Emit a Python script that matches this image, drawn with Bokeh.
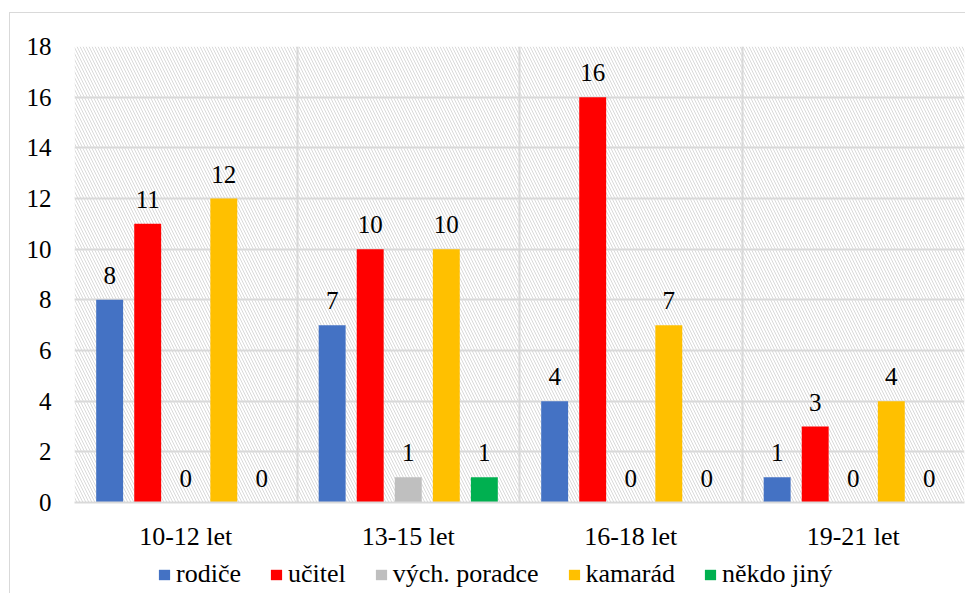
from bokeh.plotting import figure
from bokeh.layouts import column
from bokeh.models import (ColumnDataSource, FixedTicker, BoxAnnotation, Legend, LegendItem)
from bokeh.transform import dodge
from bokeh.core.properties import value
from bokeh.embed import file_html
from bokeh.resources import INLINE

categories = ["10-12 let", "13-15 let", "16-18 let", "19-21 let"]
series_names = ["rodiče", "učitel", "vých. poradce", "kamarád", "někdo jiný"]
rodice = [8, 7, 4, 1]
ucitel = [11, 10, 16, 3]
vych_poradce = [0, 1, 0, 0]
kamarad = [12, 10, 7, 4]
nekdo_jiny = [0, 1, 0, 0]
colors = ["#4472C4", "#FF0000", "#BFBFBF", "#FFC000", "#00B050"]
y_ticks = [0, 2, 4, 6, 8, 10, 12, 14, 16, 18]

series_values = [rodice, ucitel, vych_poradce, kamarad, nekdo_jiny]
offsets = [-0.342, -0.171, 0.0, 0.171, 0.342]
FONT = "Liberation Serif"
GRID = "#d9d9d9"

xc = [i + 0.5 for i in range(len(categories))]

p = figure(width=955, height=540, x_range=(0, 4), y_range=(0, 18),
           output_backend="svg", toolbar_location=None,
           min_border_left=64, min_border_right=1, min_border_top=33,
           min_border_bottom=50)
p.outline_line_color = None
p.background_fill_color = "white"
p.border_fill_color = "white"

hatch = BoxAnnotation(fill_alpha=0, line_alpha=0, hatch_pattern="\\",
                      hatch_color="#d9d9d9", hatch_scale=6, hatch_weight=1,
                      level="image")
p.add_layout(hatch)

# grids
p.ygrid.ticker = FixedTicker(ticks=y_ticks)
p.ygrid.grid_line_color = GRID
p.ygrid.grid_line_width = 2
p.xgrid.ticker = FixedTicker(ticks=[0, 1, 2, 3, 4])
p.xgrid.grid_line_color = GRID
p.xgrid.grid_line_width = 2

# axes
p.yaxis.ticker = FixedTicker(ticks=y_ticks)
p.yaxis.axis_line_color = None
p.yaxis.major_tick_line_color = None
p.yaxis.minor_tick_line_color = None
p.yaxis.major_label_text_font = FONT
p.yaxis.major_label_text_font_size = "25px"
p.yaxis.major_label_text_color = "black"
p.yaxis.major_label_standoff = 17

p.xaxis.ticker = FixedTicker(ticks=xc)
p.xaxis.major_label_overrides = {x: c for x, c in zip(xc, categories)}
p.xaxis.axis_line_color = GRID
p.xaxis.axis_line_width = 2
p.xaxis.major_tick_line_color = None
p.xaxis.minor_tick_line_color = None
p.xaxis.major_tick_out = 0
p.xaxis.major_label_text_font = FONT
p.xaxis.major_label_text_font_size = "26px"
p.xaxis.major_label_text_color = "black"
p.xaxis.major_label_standoff = 19

sources = []
for name, vals, col, off in zip(series_names, series_values, colors, offsets):
    src = ColumnDataSource(dict(x=xc, y=vals, t=[str(v) for v in vals]))
    sources.append(src)
    p.vbar(x=dodge("x", off), top="y", bottom=0, width=0.121, source=src,
           fill_color=col, line_color=None)
    p.text(x=dodge("x", off), y="y", text="t", source=src,
           text_font=value(FONT), text_font_size="25px", text_color="black",
           text_align="center", text_baseline="bottom", y_offset=-16)

# legend strip (its renderers share the data; zero width and off-view ranges hide them)
q = figure(width=955, height=40, x_range=(50, 51), y_range=(50, 51),
           output_backend="svg", toolbar_location=None,
           x_axis_location=None, y_axis_location=None,
           min_border_left=0, min_border_right=0, min_border_top=0,
           min_border_bottom=0)
q.grid.visible = False
q.outline_line_color = None
items = []
for name, col, src in zip(series_names, colors, sources):
    r = q.vbar(x="x", top="y", width=0, source=src, fill_color=col, line_color=None)
    items.append(LegendItem(label=name, renderers=[r]))
legend = Legend(items=items, orientation="horizontal", location=(83, 4),
                glyph_width=14, glyph_height=13, label_standoff=5, spacing=28,
                padding=0, margin=0, border_line_color=None,
                background_fill_alpha=0, label_text_font=FONT,
                label_text_font_size="26px", label_text_color="black")
q.add_layout(legend)

layout = column(p, q, spacing=0)
layout.styles = {"border-left": "1.5px solid #d9d9d9", "border-top": "1.5px solid #d9d9d9",
                 "margin-top": "12px", "margin-left": "9px"}

open("out.html", "w").write(file_html(layout, INLINE))
